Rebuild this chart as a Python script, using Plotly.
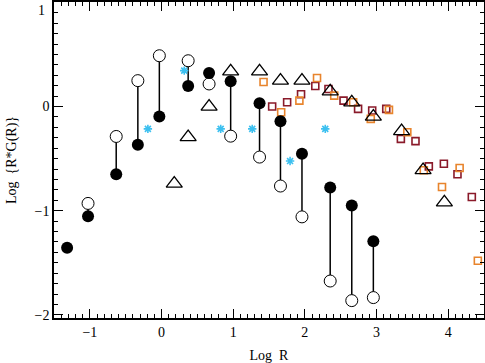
import plotly.graph_objects as go

# Filled circles
filled_x = [-1.317, -1.025, -0.632, -0.33, -0.03, 0.372, 0.664, 0.965, 1.368, 1.66, 1.96, 2.354, 2.655, 2.956]
filled_y = [-1.356, -1.053, -0.65, -0.367, -0.096, 0.198, 0.322, 0.242, 0.032, -0.14, -0.453, -0.778, -0.95, -1.292]
# Open circles
open_x = [-1.025, -0.632, -0.33, -0.03, 0.372, 0.664, 0.965, 1.368, 1.66, 1.96, 2.354, 2.655, 2.956]
open_y = [-0.93, -0.287, 0.249, 0.488, 0.44, 0.217, -0.284, -0.485, -0.763, -1.059, -1.675, -1.863, -1.834]
# Open triangles
tri_x = [0.178, 0.372, 0.664, 0.965, 1.368, 1.66, 1.96, 2.354, 2.655, 2.956, 3.35, 3.65, 3.947]
tri_y = [-0.74, -0.293, 0.0, 0.338, 0.338, 0.249, 0.249, 0.146, 0.041, -0.096, -0.236, -0.61, -0.92]
# Cyan asterisks
ast_x = [-0.19, 0.317, 0.826, 1.266, 1.794, 2.285]
ast_y = [-0.214, 0.345, -0.214, -0.214, -0.523, -0.214]
# Orange squares
org_x = [1.424, 1.67, 1.924, 2.17, 2.41, 2.674, 2.92, 3.174, 3.43, 3.66, 3.914, 4.16, 4.414]
org_y = [0.236, -0.054, 0.057, 0.274, 0.105, 0.041, -0.118, -0.032, -0.246, -0.612, -0.772, -0.59, -1.48]
# Dark red squares
red_x = [1.544, 1.753, 1.947, 2.146, 2.33, 2.54, 2.743, 2.94, 3.136, 3.34, 3.544, 3.73, 3.94, 4.13, 4.33]
red_y = [0.0, 0.041, 0.118, 0.198, 0.169, 0.057, -0.022, -0.038, -0.022, -0.31, -0.332, -0.574, -0.549, -0.65, -0.868]

# Tick labels
y_tickvals = [-2, -1, 0, 1]
y_ticktext = ["\u22122", "\u22121", "0", "1"]
x_tickvals = [-1, 0, 1, 2, 3, 4]
x_ticktext = ["\u22121", "0", "1", "2", "3", "4"]

fmap = dict(zip(filled_x, filled_y))
lx, ly = [], []
for x, y in zip(open_x, open_y):
    if x in fmap:
        lx += [x, x, None]
        ly += [y, fmap[x], None]

fig = go.Figure()
fig.add_trace(go.Scatter(x=lx, y=ly, mode="lines", line=dict(color="black", width=1.5),
                         hoverinfo="skip", showlegend=False))
fig.add_trace(go.Scatter(x=red_x, y=red_y, mode="markers",
                         marker=dict(symbol="square-open", size=7, color="#8a1a2a", line=dict(width=1.6)),
                         showlegend=False))
fig.add_trace(go.Scatter(x=org_x, y=org_y, mode="markers",
                         marker=dict(symbol="square-open", size=7, color="#e8842c", line=dict(width=1.6)),
                         showlegend=False))
fig.add_trace(go.Scatter(x=tri_x, y=tri_y, mode="markers",
                         marker=dict(symbol="triangle-up-open", size=14, color="black", line=dict(width=1.3)),
                         showlegend=False))
fig.add_trace(go.Scatter(x=ast_x, y=ast_y, mode="markers",
                         marker=dict(symbol="asterisk-open", size=7, color="#3cc0f0", line=dict(width=1.6, color="#3cc0f0")),
                         showlegend=False))
fig.add_trace(go.Scatter(x=open_x, y=open_y, mode="markers",
                         marker=dict(symbol="circle", size=12, color="white", line=dict(width=1, color="black")),
                         showlegend=False))
fig.add_trace(go.Scatter(x=filled_x, y=filled_y, mode="markers",
                         marker=dict(symbol="circle", size=12, color="black", line=dict(width=0)),
                         showlegend=False))

font = dict(family="Liberation Serif, DejaVu Serif, serif", size=14, color="black")
common = dict(showgrid=False, zeroline=False, showline=True, linecolor="black", linewidth=1.5,
              ticks="inside", ticklen=9, tickwidth=1, tickcolor="black", mirror="allticks",
              tickfont=font, automargin=False)
fig.update_xaxes(range=[-1.5, 4.5], tickvals=x_tickvals, ticktext=x_ticktext,
                 minor=dict(ticks="inside", dtick=0.1, tick0=0, ticklen=4, tickcolor="black"),
                 title=dict(text="Log  R", font=font), **common)
# top label drawn separately (it sits at the top edge of the figure)
fig.update_yaxes(range=[-2.03, 1.004], tickvals=y_tickvals, ticktext=y_ticktext[:-1] + [""],
                 minor=dict(ticks="inside", dtick=0.1, tick0=0, ticklen=4, tickcolor="black"),
                 title=dict(text="Log  {R*G(R)}", font=font), **common)
fig.add_annotation(x=0, xref="paper", xanchor="right", xshift=-7,
                   y=y_tickvals[-1], yref="y", yanchor="top", yshift=1,
                   text=y_ticktext[-1], showarrow=False, font=font)
fig.update_layout(width=485, height=363, margin=dict(l=54, r=1, t=2, b=45),
                  plot_bgcolor="white", paper_bgcolor="white", font=font)
fig.write_html("out.html", config={"displayModeBar": False},
               post_script="document.body.style.margin='0';document.body.style.overflow='hidden';")
